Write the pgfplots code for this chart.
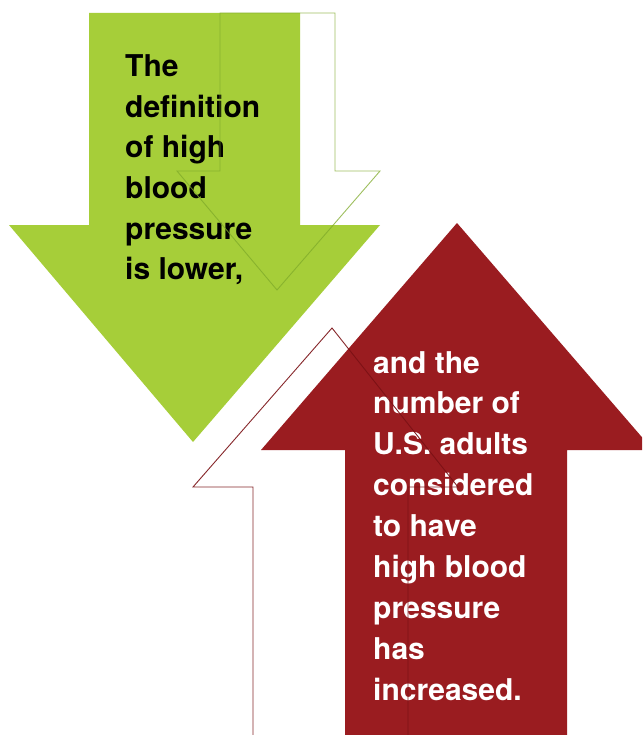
\documentclass[border=0pt]{standalone}
\usepackage{pgfplots}
\pgfplotsset{compat=1.18}
\usepackage{fontspec}
\setmainfont{TeX Gyre Heros}
\definecolor{lime}{HTML}{A6CE39}
\definecolor{limeline}{HTML}{7FAA2A}
\definecolor{bpred}{HTML}{9A1C20}
\definecolor{redline}{HTML}{7A1014}
\begin{document}
\begin{tikzpicture}
\begin{axis}[
  width=642pt, height=735pt, scale only axis,
  xmin=0, xmax=642, ymin=0, ymax=735, y dir=reverse,
  axis lines=none, ticks=none, clip=true,
]
% background
\addplot[fill=white, draw=none] coordinates {(0,0) (642,0) (642,735) (0,735)} -- cycle;
% green arrow, filled
\addplot[fill=lime, draw=none] coordinates {
(89,13) (300,13) (300,225) (380,225) (193,442) (9,225) (89,225)} -- cycle;
% red arrow, filled
\addplot[fill=bpred, draw=none] coordinates {
(345,745) (345,450) (261,450) (457,223) (653,450) (567,450) (567,745)} -- cycle;
% text
\foreach \t [count=\i from 0] in {The,definition,of high,blood,pressure,{is lower,}}{
  \edef\temp{\noexpand\node[anchor=base west, inner sep=0pt, font=\noexpand\fontsize{30}{36}\noexpand\selectfont\noexpand\bfseries, text=black]
    at (axis cs:125,{77+40.5*\i}) {\t};}\temp
}
\foreach \t [count=\i from 0] in {and the,number of,U.S. adults,considered,to have,high blood,pressure,has,increased.}{
  \edef\temp{\noexpand\node[anchor=base west, inner sep=0pt, font=\noexpand\fontsize{30}{36}\noexpand\selectfont\noexpand\bfseries, text=white]
    at (axis cs:373,{373+40.9*\i}) {\t};}\temp
}
% outline arrows
\addplot[draw=limeline, draw opacity=0.75, line width=0.9pt] coordinates {
(220,13) (335,13) (335,171) (380,171) (277,290) (177,171) (220,171)} -- cycle;
\addplot[draw=redline, draw opacity=0.9, line width=0.9pt] coordinates {
(253,745) (253,487) (193,487) (332,328) (458,487) (408,487) (408,745)} -- cycle;
\end{axis}
\end{tikzpicture}
\end{document}
